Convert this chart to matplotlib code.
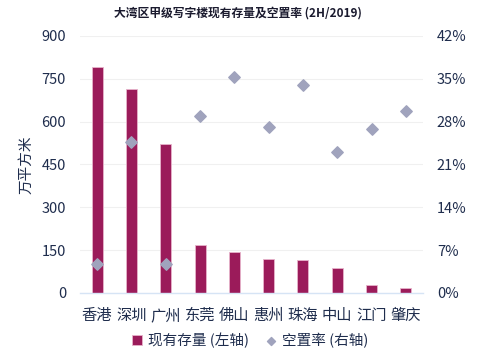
import numpy as np
import matplotlib.pyplot as plt
from matplotlib.ticker import FuncFormatter

plt.rcParams['font.family'] = ['Noto Sans CJK SC', 'DejaVu Sans']
plt.rcParams['axes.unicode_minus'] = False

# 数据
cities = ["香港", "深圳", "广州", "东莞", "佛山", "惠州", "珠海", "中山", "江门", "肇庆"]
stock = [791, 714, 522, 168, 142, 118, 117, 86, 27, 16]          # 万平方米
vacancy = [4.7, 24.6, 4.7, 28.9, 35.3, 27.1, 34.0, 23.0, 26.8, 29.7]  # %

bar_color = "#9b1b5a"
dot_color = "#a0a3bd"
text_color = "#1f2d4d"

fig = plt.figure(figsize=(5, 3.56), dpi=100)
ax = fig.add_axes([0.16, 0.177, 0.686, 0.722])
x = np.arange(len(cities))

ax.bar(x, stock, width=0.32, color=bar_color, edgecolor="#e7b3cb", linewidth=0.6,
       label="现有存量 (左轴)", zorder=2)
ax.set_xlim(-0.5, len(cities) - 0.5)
ax.set_ylim(0, 900)
ax.set_yticks(np.arange(0, 901, 150))
ax.set_xticks(x)
ax.set_xticklabels(cities, fontsize=11, color=text_color)
ax.tick_params(axis="y", labelsize=10.5, colors=text_color, length=0, pad=10)
ax.tick_params(axis="x", length=0, pad=10)
ax.grid(axis="y", color="#f0f0f0", linewidth=0.8, zorder=0)
for s in ["top", "right", "left"]:
    ax.spines[s].set_visible(False)
ax.spines["bottom"].set_color("#d6e4f5")
ax.spines["bottom"].set_linewidth(1.0)
ax.set_ylabel("万平方米", fontsize=10.5, color=text_color, labelpad=6)

ax2 = ax.twinx()
ax2.scatter(x, vacancy, marker="D", s=34, color=dot_color, label="空置率 (右轴)", zorder=3)
ax2.set_ylim(0, 42)
ax2.set_yticks(np.arange(0, 43, 7))
ax2.yaxis.set_major_formatter(FuncFormatter(lambda v, p: "%d%%" % v))
ax2.tick_params(axis="y", labelsize=10.5, colors=text_color, length=0, pad=10)
for s in ["top", "right", "left", "bottom"]:
    ax2.spines[s].set_visible(False)

ax.set_title("大湾区甲级写字楼现有存量及空置率 (2H/2019)", fontsize=8.5,
             fontweight="bold", color="#1a1a2e", pad=14, x=0.46)

h1, l1 = ax.get_legend_handles_labels()
h2, l2 = ax2.get_legend_handles_labels()
fig.legend(h1 + h2, l1 + l2, loc="lower center", bbox_to_anchor=(0.5, -0.015),
           ncol=2, frameon=False, fontsize=10.5, handlelength=0.7,
           handletextpad=0.4, columnspacing=1.2, labelcolor=text_color,
           markerscale=0.7)

fig.savefig("out.png", dpi=100)
